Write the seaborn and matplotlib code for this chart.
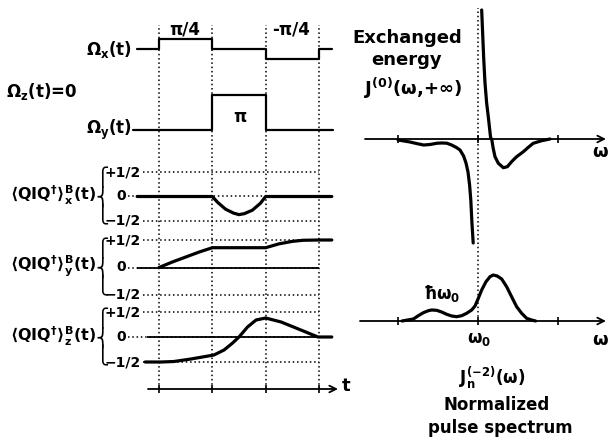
import numpy as np
import pandas as pd
import matplotlib
matplotlib.use("Agg")
import matplotlib.pyplot as plt
import seaborn as sns

# ---------------- data ----------------
t_grid = [0, 1, 2, 3]
# pulse shapes (relative amplitude)
omx_t = [-0.41, 0, 0, 1, 1, 2, 2, 3, 3, 3.24]
omx_v = [0, 0, 1, 1, 0, 0, -1, -1, 0, 0]
omy_t = [-0.49, 1, 1, 2, 2, 3.26]
omy_v = [0, 0, 1, 1, 0, 0]
# Bloch components
bx_t = [-0.41, 1, 1.1, 1.25, 1.4, 1.5, 1.6, 1.75, 1.9, 2, 3.24]
bx_v = [0, 0, -0.12, -0.26, -0.34, -0.37, -0.35, -0.28, -0.14, 0, 0]
by_t = [0, 0.25, 0.5, 0.75, 1, 2, 2.25, 2.5, 2.7, 3, 3.24]
by_v = [0, 0.1, 0.19, 0.28, 0.36, 0.36, 0.43, 0.475, 0.495, 0.5, 0.5]
bz_t = [-0.26, 0.04, 0.28, 0.6, 1.03, 1.22, 1.38, 1.5, 1.66, 1.82, 2.0, 2.29, 2.66, 2.98, 3.24]
bz_v = [-0.5, -0.5, -0.49, -0.44, -0.36, -0.26, -0.12, 0, 0.2, 0.34, 0.38, 0.3, 0.14, 0, 0]
# exchanged energy J(0)(w, +inf), two branches around w0 (=0)
jl_w = [-1.0, -0.85, -0.77, -0.68, -0.6, -0.51, -0.45, -0.39, -0.33, -0.27,
        -0.225, -0.18, -0.15, -0.125, -0.105, -0.09, -0.075, -0.06]
jl_v = [-0.1, -0.3, -0.45, -0.6, -0.55, -0.42, -0.4, -0.42, -0.6, -0.85,
        -1.1, -1.7, -2.4, -3.3, -4.6, -6.1, -8.5, -10.4]
jr_w = [0.046, 0.058, 0.071, 0.0875, 0.108, 0.129, 0.158, 0.171, 0.19, 0.2125, 0.254,
        0.317, 0.367, 0.42, 0.483, 0.567, 0.629, 0.69, 0.796, 0.9]
jr_v = [12.9, 10.6, 8.1, 5.6, 3.6, 2.2, 0.1, 0, -0.93, -1.77, -2.43,
        -2.87, -2.77, -2.27, -1.77, -1.27, -0.83, -0.43, -0.17, 0]
# normalized pulse spectrum
sp_w = [-0.95, -0.808, -0.746, -0.683, -0.621, -0.579, -0.517, -0.454, -0.392, -0.329,
        -0.267, -0.204, -0.142, -0.079, -0.0375, 0.004, 0.046, 0.1, 0.15, 0.19, 0.24,
        0.296, 0.358, 0.42, 0.483, 0.546, 0.608, 0.67, 0.72]
sp_v = [0, 0.2, 0.53, 0.83, 1.03, 1.1, 1.07, 0.9, 0.67, 0.5,
        0.43, 0.53, 0.77, 1.1, 1.5, 2.27, 3.1, 3.93, 4.43, 4.6, 4.5,
        4.2, 3.43, 2.43, 1.43, 0.77, 0.27, 0.1, 0]
w_ticks = [-1, 0, 1]

# ---------------- style ----------------
sns.set_theme(style="white")
plt.rcParams.update({
    "font.family": ["DejaVu Sans"],
    "font.weight": "bold",
    "mathtext.fontset": "custom",
    "mathtext.rm": "DejaVu Sans:bold",
    "mathtext.it": "DejaVu Sans:bold",
    "mathtext.bf": "DejaVu Sans:bold",
    "mathtext.sf": "DejaVu Sans:bold",
    "mathtext.fallback": "stixsans",
})

W, H = 610, 441
fig = plt.figure(figsize=(W / 100, H / 100), dpi=100)
fig.patch.set_facecolor("white")

def add_ax(pl, pr, pt, pb, xlim, ylim):
    ax = fig.add_axes([pl / W, 1 - pb / H, (pr - pl) / W, (pb - pt) / H])
    ax.set_xlim(xlim)
    ax.set_ylim(ylim)
    ax.axis("off")
    return ax

def txt(px, py, s, ha="center", size=12, **kw):
    fig.text(px / W, 1 - py / H, s, ha=ha, va="center", fontsize=size,
             fontweight="bold", color="black", **kw)

def t_of(px):
    return (px - 159) / 53.33

def w_of(px):
    return (px - 478) / 80.0

K = "black"
LW_C = 2.3   # curves
LW_A = 1.3   # axes
DOT = (0, (1, 1.8))

def line(ax, x, y, lw=LW_C):
    sns.lineplot(x=x, y=y, ax=ax, sort=False, estimator=None, color=K,
                 linewidth=lw, clip_on=False, legend=False)

xl = (t_of(100), t_of(350))

# ---------------- left column ----------------
axG = add_ax(100, 350, 25, 389, xl, (0, 1))
axG.vlines(t_grid, 0, 1, colors=K, linestyles=DOT, linewidth=1.1, clip_on=False)
axG.vlines(t_grid, -0.012, 0.012, colors=K, linewidth=1.2, clip_on=False)
axG.annotate("", xy=(t_of(338), 0), xytext=(t_of(148), 0),
             arrowprops=dict(arrowstyle="->", lw=LW_A, color=K,
                             shrinkA=0, shrinkB=0))

axOx = add_ax(100, 350, 39, 59, xl, (-1, 1))
line(axOx, omx_t, omx_v, lw=1.6)
axOy = add_ax(100, 350, 95, 130, xl, (0, 1))
line(axOy, omy_t, omy_v, lw=1.6)

rows = []
for (pt, pb) in [(172, 221), (240, 295), (312, 362)]:
    ax = add_ax(100, 350, pt, pb, xl, (-0.5, 0.5))
    ax.hlines([0.5, -0.5], t_of(143), 3, colors=K, linestyles=DOT, linewidth=1.1, clip_on=False)
    ax.hlines([0], t_of(128), 3, colors=K, linestyles=DOT, linewidth=1.1, clip_on=False)
    rows.append(ax)
axX, axY, axZ = rows
line(axX, bx_t, bx_v)
axY.hlines([0], t_of(137), 3, colors=K, linewidth=LW_A, clip_on=False)
line(axY, by_t, by_v)
axZ.hlines([0], t_of(147), t_of(332), colors=K, linewidth=LW_A, clip_on=False)
line(axZ, bz_t, bz_v)

# ---------------- right column ----------------
wl = (w_of(340), w_of(610))
axJ = add_ax(340, 610, 0, 260, wl, ((139 - 260) / 10, 139 / 10))
axJ.vlines([0], (139 - 321) / 10, (139 - 8) / 10, colors=K, linestyles=DOT,
           linewidth=1.1, clip_on=False)
axJ.annotate("", xy=(w_of(606), 0), xytext=(w_of(365), 0),
             arrowprops=dict(arrowstyle="->", lw=LW_A, color=K, shrinkA=0, shrinkB=0))
axJ.vlines(w_ticks, -0.4, 0.4, colors=K, linewidth=1.2)
line(axJ, jl_w, jl_v)
line(axJ, jr_w, jr_v)

axS = add_ax(340, 610, 260, 330, wl, ((321 - 330) / 10, (321 - 260) / 10))
axS.annotate("", xy=(w_of(606), 0), xytext=(w_of(360), 0),
             arrowprops=dict(arrowstyle="->", lw=LW_A, color=K, shrinkA=0, shrinkB=0))
axS.vlines(w_ticks, -0.4, 0.4, colors=K, linewidth=1.2)
line(axS, sp_w, sp_v)

# ---------------- texts ----------------
txt(185, 30, "π/4")
txt(291, 30, "-π/4")
txt(132, 50, r"$\Omega_{x}$(t)", ha="right")
txt(6, 92, r"$\Omega_{z}$(t)=0", ha="left")
txt(132, 130, r"$\Omega_{y}$(t)", ha="right")
txt(240, 117, "π")

for comp, yc in [("x", 195), ("y", 266), ("z", 336)]:
    txt(96, yc, r"$\langle \mathrm{QIQ}^{\dagger}\rangle^{B}_{%s}(\mathrm{t})$" % comp,
        ha="right", size=11.5)
    fig.text(102 / W, 1 - (yc + 1) / H, "\u23a7\n\u23a8\n\u23a9", ha="center", va="center",
             fontsize=13, fontweight="normal", family="DejaVu Sans", color=K,
             linespacing=0.82)
for yc in [172, 240, 312]:
    txt(141, yc, "+1/2", ha="right", size=10)
for yc in [196, 267, 337]:
    txt(126, yc, "0", ha="right", size=10)
for yc in [221, 295, 362]:
    txt(141, yc, "\u22121/2", ha="right", size=10)
txt(346, 386, "t", size=13)

txt(407, 38, "Exchanged", size=13)
txt(407, 60, "energy", size=13)
txt(413, 88, r"J$^{(0)}$($\omega$,+$\infty$)", size=13)
txt(600, 152, r"$\omega$", size=13)
txt(442, 294, r"ħ$\omega_{0}$", size=12)
txt(479, 339, r"$\omega_{0}$", size=12)
txt(600, 340, r"$\omega$", size=13)
txt(492, 378, r"J$_{n}^{(-2)}$($\omega$)", size=12)
txt(497, 405, "Normalized", size=12)
txt(500, 428, "pulse spectrum", size=12)

fig.savefig("out.png", dpi=100, facecolor="white")
